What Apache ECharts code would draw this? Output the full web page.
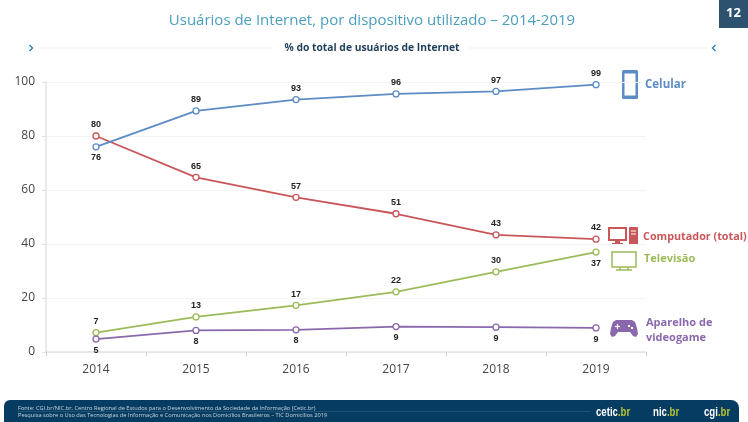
<!DOCTYPE html>
<html>
<head>
<meta charset="utf-8">
<title>Usuários de Internet</title>
<script src="https://cdn.jsdelivr.net/npm/echarts@6/dist/echarts.min.js"></script>
<style>
html, body { margin: 0; padding: 0; background: #fff; }
#chart { width: 748px; height: 422px; }
</style>
</head>
<body>
<div id="chart"></div>
<script>
// dados
const anos = ['2014', '2015', '2016', '2017', '2018', '2019'];
const celular = [76, 89.3, 93.5, 95.6, 96.5, 99];
const computador = [80, 64.7, 57.3, 51.2, 43.4, 41.8];
const televisao = [7.2, 13, 17.3, 22.3, 29.7, 37];
const videogame = [4.8, 8, 8.2, 9.4, 9.2, 8.9];
const rotulosCelular = [76, 89, 93, 96, 97, 99];
const rotulosComputador = [80, 65, 57, 51, 43, 42];
const rotulosTelevisao = [7, 13, 17, 22, 30, 37];
const rotulosVideogame = [5, 8, 8, 9, 9, 9];
const ticksY = [0, 20, 40, 60, 80, 100];

const fonte = '"Open Sans", sans-serif';
const corCelular = '#5b8cc5';
const corComputador = '#c9575a';
const corTelevisao = '#9bbb59';
const corVideogame = '#8a68ad';
const corFaixa = '#063c61';

const chart = echarts.init(document.getElementById('chart'));

// monta uma série de linha com os rótulos arredondados
function serie(nome, valores, rotulos, cor, posicoes) {
    return {
        name: nome,
        type: 'line',
        data: valores.map((v, i) => ({
            value: v,
            label: {
                show: true,
                position: posicoes[i],
                distance: 3,
                formatter: String(rotulos[i]),
                color: '#222',
                fontSize: 9,
                fontWeight: 'bold',
                fontFamily: '"Liberation Sans", sans-serif'
            }
        })),
        symbol: 'circle',
        symbolSize: 6,
        showSymbol: true,
        itemStyle: { color: '#fff', borderColor: cor, borderWidth: 1.3 },
        lineStyle: { color: cor, width: 1.8 }
    };
}

function repete(p) { return anos.map(() => p); }

// ícones, faixa do rodapé e textos ao redor do gráfico
function rect(x, y, width, height, cor, r) {
    return { type: 'rect', shape: { x, y, width, height, r: r || 0 }, style: { fill: cor } };
}
function moldura(x, y, width, height, cor, lw, r) {
    return { type: 'rect', shape: { x, y, width, height, r: r || 0 }, style: { fill: '#fff', stroke: cor, lineWidth: lw } };
}
function linha(x1, y1, x2, y2, cor, lw) {
    return { type: 'line', shape: { x1, y1, x2, y2 }, style: { stroke: cor, lineWidth: lw } };
}
function texto(x, y, t, cor, size, weight, align) {
    return {
        type: 'text', x, y,
        style: { text: t, fill: cor, fontSize: size, fontWeight: weight || 'normal', fontFamily: fonte, textAlign: align || 'left', textVerticalAlign: 'middle' }
    };
}
function seta(x, y, dir) {
    return {
        type: 'polyline',
        shape: { points: [[x - dir * 1.5, y - 3], [x + dir * 1.5, y], [x - dir * 1.5, y + 3]] },
        style: { stroke: '#2f86c5', lineWidth: 1.5, fill: 'none' }
    };
}
// logotipos do rodapé, estreitados porque não há fonte condensada
function marca(x, nome) {
    const f = '"Liberation Sans", sans-serif';
    return {
        type: 'text', x, y: 412, scaleX: 0.74,
        style: {
            text: '{a|' + nome + '}{b|.br}', textVerticalAlign: 'middle',
            rich: {
                a: { fill: '#fff', fontSize: 13, fontWeight: 'bold', fontFamily: f },
                b: { fill: '#b5c334', fontSize: 13, fontWeight: 'bold', fontFamily: f }
            }
        }
    };
}

const elementos = [
    texto(372, 21, 'Usuários de Internet, por dispositivo utilizado – 2014-2019', '#4b9fbe', 15, 'normal', 'center'),
    rect(719, 0, 29, 28, '#2c5270'),
    texto(733.5, 13, '12', '#fff', 13, 'bold', 'center'),
    seta(31, 48, 1),
    seta(714, 48, -1),
    linha(38, 48, 274, 48, '#e8f3fa', 1),
    linha(468, 48, 708, 48, '#e8f3fa', 1),
    texto(372, 48, '% do total de usuários de Internet', '#1f3f5b', 10.3, 'bold', 'center'),

    // celular
    rect(622, 70, 16, 29, corCelular, 1.5),
    rect(624.5, 73.5, 11, 22, '#fff'),
    texto(645, 85, 'Celular', corCelular, 11.5, 'bold'),

    // computador
    moldura(609, 228, 17, 12, corComputador, 2),
    rect(615, 240, 5, 3, corComputador),
    rect(612, 243, 11, 1.5, corComputador),
    rect(629, 227, 9, 18, corComputador, 1),
    linha(631, 231, 636, 231, '#fff', 1),
    linha(631, 234, 636, 234, '#fff', 1),
    texto(643, 237, 'Computador (total)', corComputador, 10.8, 'bold'),

    // televisão
    moldura(612, 252, 24, 15, corTelevisao, 1.5),
    linha(616, 270, 632, 270, corTelevisao, 1.5),
    linha(620, 267, 620, 270, corTelevisao, 1.5),
    linha(628, 267, 628, 270, corTelevisao, 1.5),
    texto(644, 259, 'Televisão', corTelevisao, 11, 'bold'),

    // videogame
    {
        type: 'polygon',
        shape: {
            points: [[616, 320], [632, 320], [635, 322], [637, 328], [638, 334], [636, 337], [633, 336], [630, 332], [618, 332], [615, 336], [612, 337], [610, 334], [611, 328], [613, 322]]
        },
        style: { fill: corVideogame }
    },
    linha(615, 326.5, 620, 326.5, '#fff', 1.2),
    linha(617.5, 324, 617.5, 329, '#fff', 1.2),
    rect(628, 325, 2, 2, '#fff'),
    rect(631, 327, 2, 2, '#fff'),
    texto(646, 323, 'Aparelho de', corVideogame, 11, 'bold'),
    texto(646, 338, 'videogame', corVideogame, 11, 'bold'),

    // rodapé
    { type: 'rect', shape: { x: 4, y: 400, width: 735, height: 22, r: [6, 8, 0, 0] }, style: { fill: corFaixa } },
    texto(18, 408, 'Fonte: CGI.br/NIC.br, Centro Regional de Estudos para o Desenvolvimento da Sociedade da Informação (Cetic.br)', '#c9d6df', 5.7),
    linha(18, 411.5, 590, 411.5, '#3c6583', 0.5),
    texto(18, 415.5, 'Pesquisa sobre o Uso das Tecnologias de Informação e Comunicação nos Domicílios Brasileiros – TIC Domicílios 2019', '#c9d6df', 5.7),
    marca(596, 'cetic'),
    marca(653, 'nic'),
    marca(704, 'cgi')
];

const option = {
    animation: false,
    backgroundColor: '#fff',
    grid: { left: 46, top: 82, width: 600, height: 270 },
    xAxis: {
        type: 'category',
        data: anos,
        boundaryGap: true,
        axisLine: { lineStyle: { color: '#e2e2e2', width: 1.5 } },
        axisTick: { show: true, length: 4, lineStyle: { color: '#cfcfcf' } },
        axisLabel: { color: '#444', fontSize: 12, fontFamily: fonte, margin: 12 }
    },
    yAxis: {
        type: 'value',
        min: 0,
        max: ticksY[ticksY.length - 1],
        interval: 20,
        axisLine: { show: true, lineStyle: { color: '#e2e2e2', width: 1.5 } },
        axisTick: { show: true, length: 4, lineStyle: { color: '#e2e2e2' } },
        splitLine: { lineStyle: { color: '#f4f4f4' } },
        axisLabel: { color: '#444', fontSize: 12, fontFamily: fonte, margin: 11 }
    },
    series: [
        serie('Televisão', televisao, rotulosTelevisao, corTelevisao, ['top', 'top', 'top', 'top', 'top', 'bottom']),
        serie('Aparelho de videogame', videogame, rotulosVideogame, corVideogame, repete('bottom')),
        serie('Computador (total)', computador, rotulosComputador, corComputador, repete('top')),
        serie('Celular', celular, rotulosCelular, corCelular, ['bottom', 'top', 'top', 'top', 'top', 'top'])
    ],
    graphic: { elements: elementos }
};

chart.setOption(option);

window.addEventListener('resize', function() {
    chart.resize();
});
</script>
</body>
</html>
